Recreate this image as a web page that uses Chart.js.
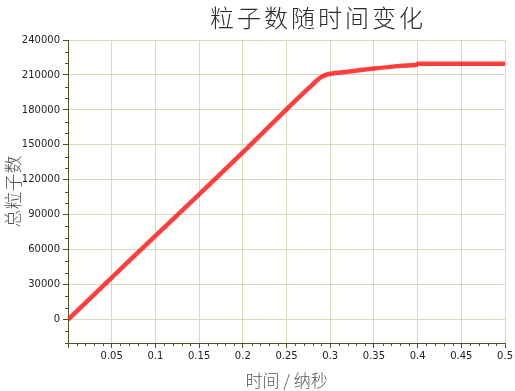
<!DOCTYPE html>
<html>
<head>
<meta charset="utf-8">
<script src="https://cdn.jsdelivr.net/npm/chart.js@4/dist/chart.umd.min.js"></script>
<style>
  html, body { margin: 0; padding: 0; background: #fff; }
  #wrap { width: 515px; height: 391px; }
</style>
</head>
<body>
<div id="wrap"><canvas id="particleChart" width="515" height="391"></canvas></div>
<script>
// time in ns, total particle count
let timeNs = [0, 0.05, 0.1, 0.15, 0.2, 0.25, 0.28, 0.285, 0.29, 0.295, 0.3, 0.32, 0.35, 0.38, 0.399, 0.4, 0.45, 0.5];
let particles = [0, 36000, 72000, 107500, 143500, 180500, 202000, 205500, 208300, 210000, 211000, 212800, 215500, 217800, 218800, 219600, 219600, 219600];
let yTicks = [0, 30000, 60000, 90000, 120000, 150000, 180000, 210000, 240000];

let chartTitle = '粒子数随时间变化';
let xTitle = '时间 / 纳秒';
let yTitle = '总粒子数';

let axisColor = '#4b5528';
let gridColor = '#d9d9bd';
let tickFont = { family: 'DejaVu Sans', size: 10 };

let points = timeNs.map((t, i) => ({ x: t, y: particles[i] }));

// title + minor tick marks
let extras = {
    id: 'extras',
    afterDraw(chart) {
        let ctx = chart.ctx;
        let xs = chart.scales.x, ys = chart.scales.y;
        ctx.save();
        ctx.strokeStyle = axisColor;
        ctx.lineWidth = 1;
        ctx.beginPath();
        for (let v = -20000; v <= 240000; v += 10000) {
            if (v % 30000 === 0) continue;
            let py = Math.round(ys.getPixelForValue(v)) + 0.5;
            ctx.moveTo(xs.left - 3, py);
            ctx.lineTo(xs.left, py);
        }
        for (let k = 1; k < 50; k++) {
            if (k % 5 === 0) continue;
            let px = Math.round(xs.getPixelForValue(k / 100)) + 0.5;
            ctx.moveTo(px, ys.bottom);
            ctx.lineTo(px, ys.bottom + 3);
        }
        ctx.stroke();

        ctx.fillStyle = '#2a2a2a';
        ctx.font = '300 24px "Noto Sans CJK SC"';
        ctx.letterSpacing = '3px';
        ctx.textAlign = 'center';
        ctx.textBaseline = 'middle';
        ctx.fillText(chartTitle, 318, 18);
        ctx.restore();
    }
};

let ctx = document.getElementById('particleChart').getContext('2d');
let chart = new Chart(ctx, {
    type: 'line',
    data: {
        datasets: [{
            label: yTitle,
            data: points,
            borderColor: 'rgba(255, 20, 20, 0.82)',
            borderWidth: 4.5,
            pointRadius: 0,
            tension: 0.3,
            fill: false
        }]
    },
    options: {
        responsive: false,
        animation: false,
        layout: { padding: { top: 40, right: 7, left: 0, bottom: 0 } },
        plugins: {
            legend: { display: false },
            title: { display: false },
            tooltip: { enabled: false }
        },
        scales: {
            x: {
                type: 'linear',
                min: 0,
                max: 0.5,
                afterFit(scale) { scale.height = 48; },
                border: { color: axisColor, width: 1 },
                grid: { color: gridColor, tickColor: axisColor, tickLength: 5 },
                ticks: {
                    stepSize: 0.05,
                    padding: 2,
                    color: '#222',
                    font: tickFont,
                    maxRotation: 0,
                    autoSkip: false,
                    callback: v => v === 0 ? '' : String(+v.toFixed(2))
                },
                title: {
                    display: true,
                    text: xTitle,
                    color: '#555',
                    font: { family: 'Noto Sans CJK SC', size: 17, weight: '300' },
                    padding: { top: 1, bottom: 0 }
                }
            },
            y: {
                min: -20000,
                max: 240000,
                afterFit(scale) { scale.width = 68; },
                afterBuildTicks(scale) { scale.ticks = yTicks.map(v => ({ value: v })); },
                border: { color: axisColor, width: 1 },
                grid: { color: gridColor, tickColor: axisColor, tickLength: 5 },
                ticks: {
                    padding: 3,
                    color: '#222',
                    font: tickFont,
                    callback: v => String(v)
                },
                title: {
                    display: true,
                    text: yTitle,
                    color: '#555',
                    font: { family: 'Noto Sans CJK SC', size: 18, weight: '300' },
                    padding: { top: 2, bottom: 0 }
                }
            }
        }
    },
    plugins: [extras]
});
</script>
</body>
</html>
